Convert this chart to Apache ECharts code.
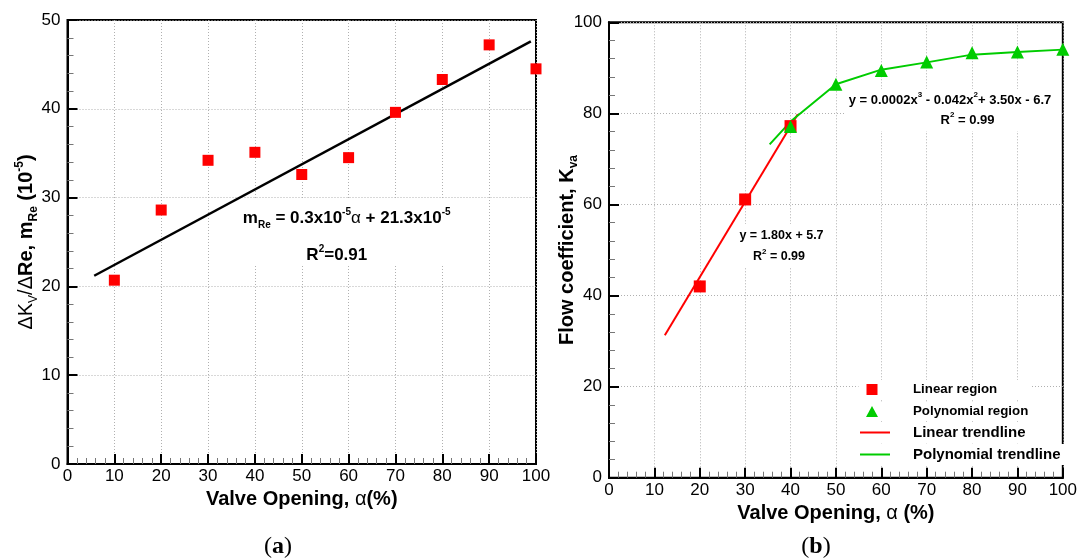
<!DOCTYPE html>
<html>
<head>
<meta charset="utf-8">
<script src="https://cdn.jsdelivr.net/npm/echarts@6/dist/echarts.min.js"></script>
<style>
  html, body { margin: 0; padding: 0; background: #fff; }
  #chart { width: 1080px; height: 560px; }
</style>
</head>
<body>
<div id="chart"></div>
<script>
const FONT = 'Arial, "Liberation Sans", sans-serif';
const SERIF = '"Times New Roman", "Liberation Serif", serif';

// (a) sensitivity of Kv to Re against valve opening
const openingA = [10, 20, 30, 40, 50, 60, 70, 80, 90, 100];
const slopeA = [20.7, 28.6, 34.2, 35.1, 32.6, 34.5, 39.6, 43.3, 47.2, 44.5];
const fitLineA = [[5.7, 21.2], [98.9, 47.6]];

// (b) flow coefficient against valve opening
const linearX = [20, 30, 40];
const linearKv = [42.0, 61.1, 77.2];
const polyX = [40, 50, 60, 70, 80, 90, 100];
const polyKv = [77.1, 86.4, 89.4, 91.3, 93.3, 93.5, 94.1];
const linearFit = [[12.3, 31.3], [41.6, 79.8]];
const polyFit = [[35.4, 73.2], [40, 78.2], [50, 86.4], [60, 89.6], [70, 91.2], [80, 92.9], [90, 93.5], [100, 94.0]];

const RED = '#ff0000';
const GREEN = '#00cc00';

const pairs = (xs, ys) => xs.map((x, i) => [x, ys[i]]);

// shared axis look: inside ticks, gray minor ticks, dotted grid
function axisBase(gridIndex, min, max, interval) {
  return {
    type: 'value',
    gridIndex,
    min,
    max,
    interval,
    axisLine: { show: true, onZero: false, lineStyle: { color: '#000', width: 2 } },
    axisTick: { show: true, inside: true, length: 10, lineStyle: { color: '#000', width: 2 } },
    minorTick: { show: true, splitNumber: 5, length: 6, lineStyle: { color: '#777', width: 1 } },
    axisLabel: { color: '#000', fontSize: 17, fontFamily: FONT },
    splitLine: { show: true, lineStyle: { color: '#b0b0b0', width: 1, type: [1, 2] } },
    nameLocation: 'middle',
  };
}

const boldRich = {
  b: { fontSize: 20, fontWeight: 'bold', fontFamily: FONT, color: '#000', lineHeight: 26 },
  r: { fontSize: 20, fontWeight: 'normal', fontFamily: FONT, color: '#000', lineHeight: 26 },
  rs: { fontSize: 12, fontWeight: 'normal', fontFamily: FONT, color: '#000', verticalAlign: 'bottom' },
  bs: { fontSize: 12, fontWeight: 'bold', fontFamily: FONT, color: '#000', verticalAlign: 'bottom' },
  bp: { fontSize: 12, fontWeight: 'bold', fontFamily: FONT, color: '#000', verticalAlign: 'top' },
};

const xA = Object.assign(axisBase(0, 0, 100, 10), {
  name: '{b|Valve Opening, }{r|α}{b|(%)}',
  nameGap: 22,
  axisLabel: { color: '#000', fontSize: 17, fontFamily: FONT, margin: 4 },
  nameTextStyle: { rich: boldRich },
});
const yA = Object.assign(axisBase(0, 0, 50, 10), {
  name: '{r|ΔK}{rs|V}{r|/Δ}{b|Re, m}{bs|Re}{b| (10}{bp|-5}{b|)}',
  nameRotate: 90,
  nameGap: 28,
  nameMoveOverlap: false,
  axisLabel: { color: '#000', fontSize: 17, fontFamily: FONT, margin: 7 },
  nameTextStyle: { rich: boldRich },
});
const xB = Object.assign(axisBase(1, 0, 100, 10), {
  name: '{b|Valve Opening, }{r|α}{b| (%)}',
  nameGap: 22,
  axisLabel: { color: '#000', fontSize: 17, fontFamily: FONT, margin: 4 },
  nameTextStyle: { rich: boldRich },
});
const yB = Object.assign(axisBase(1, 0, 100, 20), {
  name: '{b|Flow coefficient, K}{bs|va}',
  nameRotate: 90,
  nameGap: 29,
  nameMoveOverlap: false,
  axisLabel: { color: '#000', fontSize: 17, fontFamily: FONT, margin: 7 },
  nameTextStyle: { rich: boldRich },
});

const noteRich = (size, sub) => ({
  b: { fontSize: size, fontWeight: 'bold', fontFamily: FONT, color: '#000', lineHeight: size + 6 },
  r: { fontSize: size, fontWeight: 'normal', fontFamily: FONT, color: '#000', lineHeight: size + 6 },
  sub: { fontSize: sub, fontWeight: 'bold', fontFamily: FONT, color: '#000', verticalAlign: 'bottom' },
  sup: { fontSize: sub, fontWeight: 'bold', fontFamily: FONT, color: '#000', verticalAlign: 'top' },
});

function note(x, y, text, rich) {
  return { type: 'text', z: 1, style: { x, y, text, rich, align: 'center', verticalAlign: 'middle' } };
}
function blank(x, y, width, height) {
  return { type: 'rect', z: 1, shape: { x, y, width, height }, style: { fill: '#fff' } };
}

// one legend block per row so each row sits where the reference puts it
function legendItem(name, icon, top, left, iconW, iconH, size, textPad, extraRight) {
  return {
    data: [{ name, icon }],
    left,
    top,
    orient: 'vertical',
    itemWidth: iconW,
    itemHeight: iconH,
    padding: [3, extraRight, 3, 8],
    backgroundColor: '#fff',
    selectedMode: false,
    itemStyle: { opacity: 1 },
    textStyle: { color: '#000', fontSize: size, fontWeight: 'bold', fontFamily: FONT, padding: [0, 0, 0, textPad] },
  };
}

const option = {
  animation: false,
  backgroundColor: '#fff',
  grid: [
    { left: 67.5, right: 544, top: 20, bottom: 96, show: true, borderColor: '#000', borderWidth: 2, backgroundColor: 'transparent' },
    { left: 609, right: 15.7, top: 22.3, bottom: 82.3, show: true, borderColor: '#000', borderWidth: 2, backgroundColor: 'transparent' },
  ],
  xAxis: [xA, xB],
  yAxis: [yA, yB],
  legend: [
    legendItem('Linear region', 'rect', 380, 858.5, 11, 11, 13.3, 30.5, 34),
    legendItem('Polynomial region', 'triangle', 402, 858, 12, 11, 13.3, 30, 8),
    legendItem('Linear trendline', 'rect', 422, 852, 30, 2, 15, 18, 8),
    legendItem('Polynomial trendline', 'rect', 444, 852, 30, 2, 15, 18, 4),
  ],
  graphic: [
    blank(238, 199, 217, 66),
    note(346.7, 218.3, '{b|m}{sub|Re}{b| = 0.3x10}{sup|-5}{r|α}{b| + 21.3x10}{sup|-5}', noteRich(17, 10)),
    note(336.8, 255.7, '{b|R}{sup|2}{b|=0.91}', noteRich(17, 10)),
    blank(845, 89, 216, 42),
    note(950, 100, '{b|y = 0.0002x}{sup|3}{b| - 0.042x}{sup|2}{b|+ 3.50x - 6.7}', noteRich(13, 8)),
    note(967.5, 120.7, '{b|R}{sup|2}{b| = 0.99}', noteRich(13, 8)),
    blank(733, 224, 97, 44),
    note(781.5, 235.3, '{b|y = 1.80x + 5.7}', noteRich(12.5, 8)),
    note(779, 256.7, '{b|R}{sup|2}{b| = 0.99}', noteRich(12.5, 8)),
    {
      type: 'text', style: {
        x: 278, y: 547, align: 'center', verticalAlign: 'middle',
        text: '{p|(}{a|a}{p|)}',
        rich: { p: { fontSize: 24, fontFamily: SERIF, color: '#000' }, a: { fontSize: 24, fontFamily: SERIF, fontWeight: 'bold', color: '#000' } },
      },
    },
    {
      type: 'text', style: {
        x: 816, y: 547, align: 'center', verticalAlign: 'middle',
        text: '{p|(}{a|b}{p|)}',
        rich: { p: { fontSize: 24, fontFamily: SERIF, color: '#000' }, a: { fontSize: 24, fontFamily: SERIF, fontWeight: 'bold', color: '#000' } },
      },
    },
  ],
  series: [
    {
      type: 'line', xAxisIndex: 0, yAxisIndex: 0, data: fitLineA, symbol: 'none',
      color: '#000', lineStyle: { color: '#000', width: 2.5 }, z: 2,
    },
    {
      type: 'scatter', xAxisIndex: 0, yAxisIndex: 0, data: pairs(openingA, slopeA),
      symbol: 'rect', symbolSize: 11, itemStyle: { color: RED, opacity: 1 }, z: 3,
    },
    {
      name: 'Linear trendline', type: 'line', xAxisIndex: 1, yAxisIndex: 1, data: linearFit, symbol: 'none',
      color: RED, lineStyle: { color: RED, width: 2 }, z: 2,
    },
    {
      name: 'Polynomial trendline', type: 'line', xAxisIndex: 1, yAxisIndex: 1, data: polyFit, symbol: 'none',
      color: GREEN, lineStyle: { color: GREEN, width: 2 }, z: 2,
    },
    {
      name: 'Linear region', type: 'scatter', xAxisIndex: 1, yAxisIndex: 1, data: pairs(linearX, linearKv),
      symbol: 'rect', symbolSize: 12, itemStyle: { color: RED, opacity: 1 }, z: 3,
    },
    {
      name: 'Polynomial region', type: 'scatter', xAxisIndex: 1, yAxisIndex: 1, data: pairs(polyX, polyKv),
      symbol: 'triangle', symbolSize: 13, itemStyle: { color: GREEN, opacity: 1 }, z: 3,
    },
  ],
};

const chart = echarts.init(document.getElementById('chart'), null, { renderer: 'canvas' });
chart.setOption(option);
</script>
</body>
</html>
